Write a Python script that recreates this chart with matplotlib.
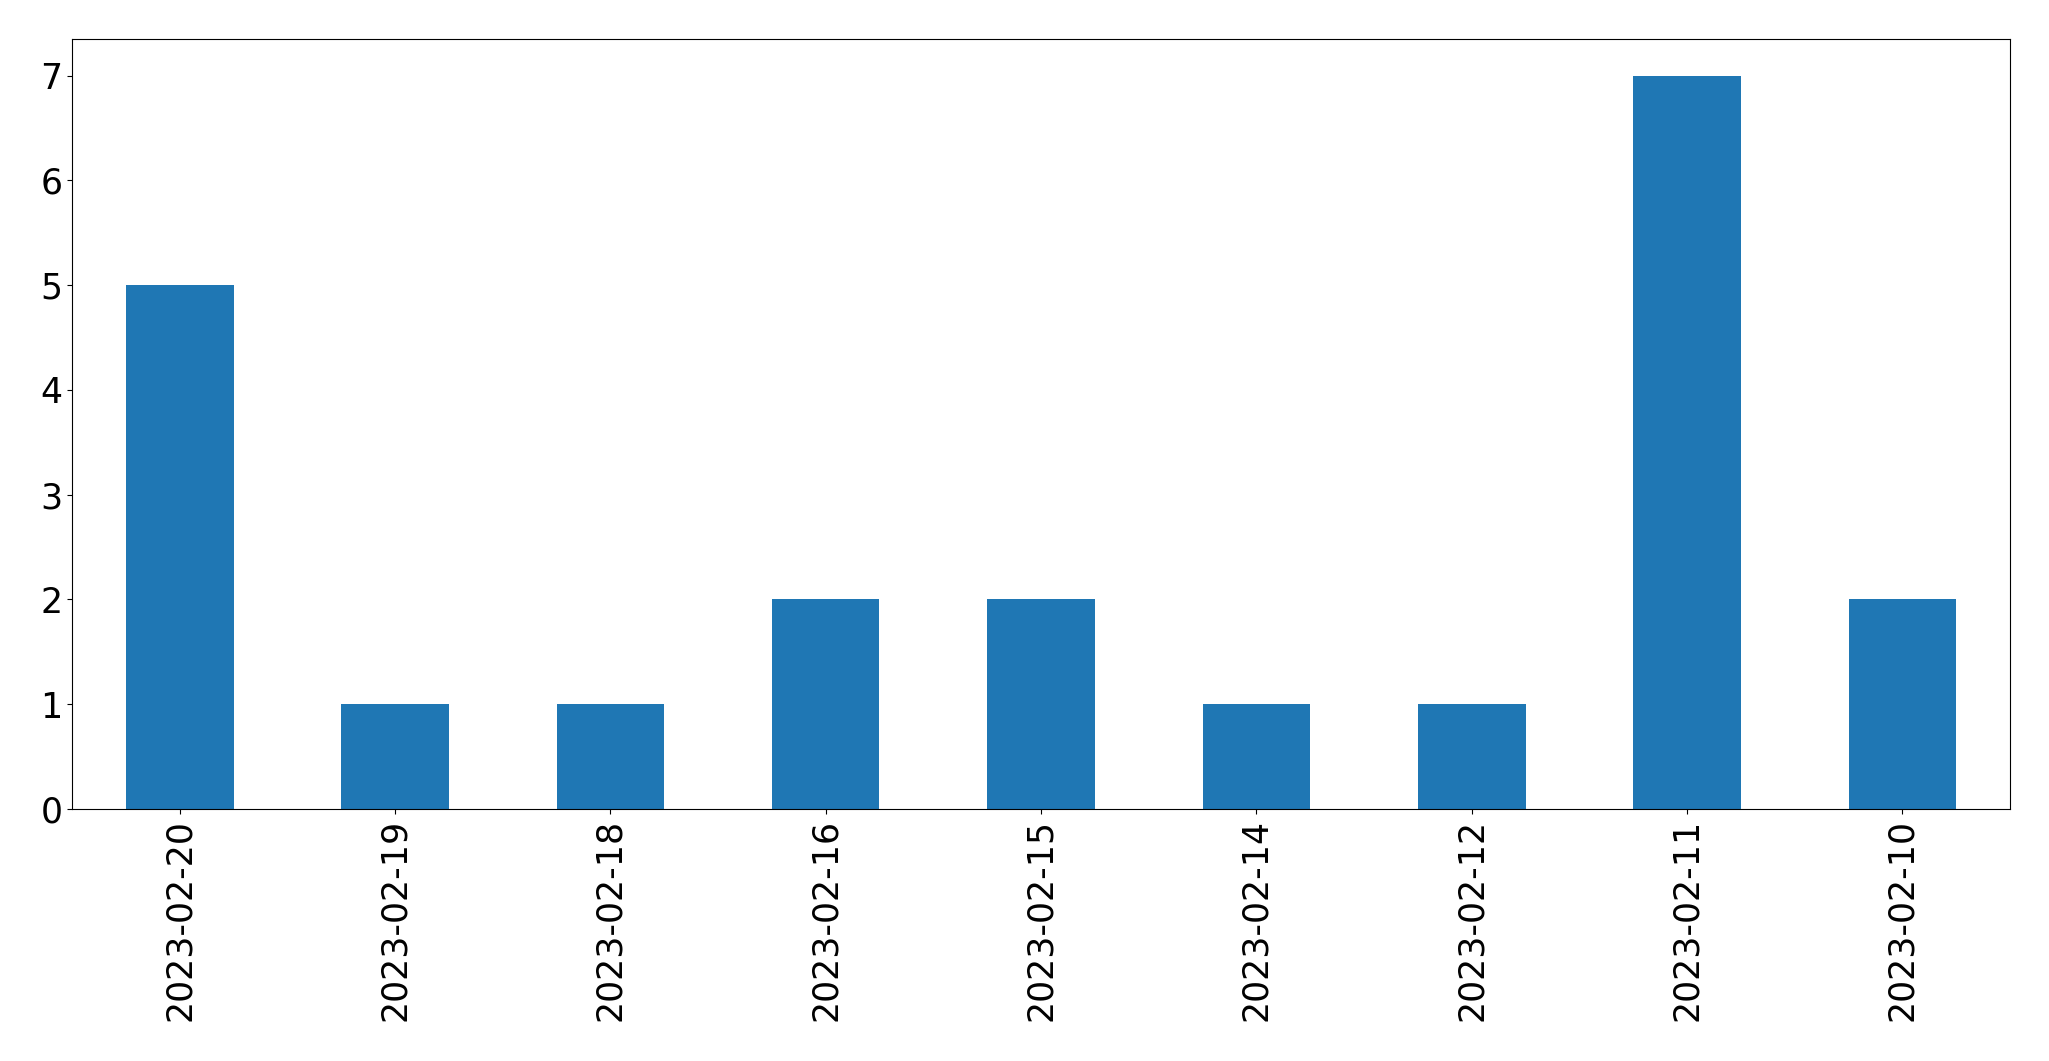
import matplotlib
matplotlib.use("Agg")
import numpy as np
from matplotlib import pyplot as plt

dates = ["2023-02-20", "2023-02-19", "2023-02-18", "2023-02-16", "2023-02-15",
         "2023-02-14", "2023-02-12", "2023-02-11", "2023-02-10"]
counts = [5, 1, 1, 2, 2, 1, 1, 7, 2]

fig = plt.figure(figsize=(20.49, 10.61), dpi=100)
ax = fig.add_axes([72 / 2049, 1 - 809 / 1061, (2010 - 72) / 2049, (809 - 39) / 1061])

x = np.arange(len(dates))
ax.bar(x, counts, width=0.5, color="#1f77b4")
ax.set_xlim(-0.5, len(dates) - 0.5)
ax.set_ylim(0, 7.35)
ax.set_xticks(x)
ax.set_xticklabels(dates, rotation=90)
ax.tick_params(axis="both", labelsize=25)

fig.savefig("out.png", dpi=100)
